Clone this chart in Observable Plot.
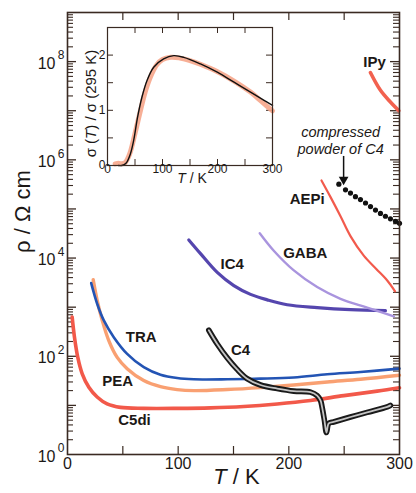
<!DOCTYPE html>
<html><head><meta charset="utf-8">
<script src="https://cdn.jsdelivr.net/npm/d3@7"></script>
<script src="https://cdn.jsdelivr.net/npm/@observablehq/plot@0.6"></script>
<style>
body{margin:0;background:#fff}
#c{position:relative;width:416px;height:493px}
#c svg{position:absolute}
</style>
</head><body><div id="c"></div>
<script>
// ---------- data (main panel: T in K, rho in ohm cm) ----------
const T_IPy = [273.7, 282.8, 291.8, 299.4];
const rho_IPy = [6.0e7, 2.6e7, 1.5e7, 1.0e7];

const T_comp = [245.2, 251.2, 255.7, 260.2, 264.7, 269.3, 273.8, 278.3, 282.8, 287.3, 291.8, 296.4, 300];
const rho_comp = [3.2e5, 2.45e5, 2.1e5, 1.78e5, 1.55e5, 1.32e5, 1.12e5, 9.5e4, 8.1e4, 7.1e4, 6.3e4, 5.6e4, 5.1e4];

const T_AEPi = [229.5, 237.7, 246.7, 255.7, 267.7, 279, 288.9, 296];
const rho_AEPi = [3.8e5, 1.74e5, 7.1e4, 2.8e4, 1.12e4, 6.0e3, 3.5e3, 2.1e3];

const T_GABA = [173.7, 186.4, 204.5, 225.6, 246.7, 270.8, 294.9];
const rho_GABA = [3.2e4, 1.41e4, 5.6e3, 2.57e3, 1.48e3, 980, 650];

const T_IC4 = [109.6, 120.2, 135.3, 150.3, 165.4, 180.5, 198.5, 225.6, 255.7, 287.3];
const rho_IC4 = [2.34e4, 1.23e4, 5.1e3, 2.75e3, 1.82e3, 1.41e3, 1.12e3, 980, 890, 850];

const T_TRA = [21.4, 26.8, 32.8, 41.8, 53.9, 68.9, 84, 99.1, 114.1, 144.3, 174.4, 204.5, 234.7, 264.8, 300];
const rho_TRA = [3090, 1175, 537, 245, 112, 60, 42, 36, 34, 34, 35, 37, 43, 48, 56];

const T_PEA = [23.2, 26.8, 31.4, 37.3, 44.9, 53.9, 68.9, 84, 99.1, 114.1, 144.3, 174.4, 204.5, 234.7, 264.8, 300];
const rho_PEA = [3630, 1380, 537, 209, 95, 56, 32, 24, 21, 20, 21, 23, 26, 30, 34, 41];

const T_C5di = [4.2, 6.3, 9.3, 13.3, 19.3, 26.8, 35.8, 47.9, 68.9, 99.1, 129.2, 159.3, 189.5, 219.6, 249.7, 279.8, 300];
const rho_C5di = [631, 245, 95, 44, 23.4, 14.8, 10.7, 9.1, 8.7, 8.7, 8.9, 9.5, 10.7, 12.6, 15.8, 19.5, 22.9];

const T_C4 = [127.7, 135.3, 144.3, 153.3, 162.3, 174.4, 189.5, 204.5, 219.6, 225.6, 228.6, 230.1, 232.2, 234, 236.1, 240.4, 255.7, 270.8, 288.9, 291.8];
const rho_C4 = [339, 178, 93, 54, 35, 26, 22, 19.5, 18.6, 15.8, 12.6, 9.1, 4.9, 2.8, 4.3, 4.6, 5.8, 7.2, 9.3, 10];

// curve labels
const labelText = ["IPy", "AEPi", "GABA", "IC4", "TRA", "C4", "PEA", "C5di"];
const labelT = [277.4, 216.6, 214.8, 148.8, 66.6, 156.3, 45.4, 60.5];
const labelRho = [9.7e7, 1.55e5, 1.26e4, 7.6e3, 245, 135, 31, 4.9];

const annoLines = ["compressed", "powder of C4"];
const annoT = [246.8, 246.8];
const annoRho = [3.55e6, 1.66e6];
const arrowT = 249.5, arrowFrom = 1.2e6, arrowTo = 3.6e5;

// ticks
const xTickLabels = [0, 100, 200, 300];
const xTicks = [50, 100, 150, 200, 250];
const yLabelVals = [1, 1e2, 1e4, 1e6, 1e8];
const yLabelExp = ["0", "2", "4", "6", "8"];
const yDecades = [10, 1e2, 1e3, 1e4, 1e5, 1e6, 1e7, 1e8];
const yAll = d3.scaleLog().domain([1, 1e9]).ticks();
const yMinor = yAll.filter(v => Math.abs(Math.log10(v) - Math.round(Math.log10(v))) > 1e-9);

// ---------- inset data: sigma(T)/sigma(295 K) ----------
const T_insetFit = [20, 26, 33.6, 41.6, 47.5, 54.7, 62.7, 71.9, 84, 102, 120.4, 138.7, 169, 199.6, 230, 260, 284.7, 300];
const s_insetFit = [0, 0, 0.04, 0.21, 0.45, 0.875, 1.24, 1.54, 1.78, 1.93, 1.99, 1.96, 1.84, 1.69, 1.51, 1.33, 1.18, 1.09];
const T_insetData = [14, 20, 26, 32, 40, 50, 60, 70, 80, 90, 100, 115, 130, 150, 170, 200, 230, 260, 280, 300];
const s_insetData = [0.03, 0.04, 0.03, 0.05, 0.2, 0.58, 1.0, 1.38, 1.65, 1.83, 1.92, 1.96, 1.95, 1.9, 1.83, 1.7, 1.53, 1.33, 1.16, 0.99];
const insetXLabels = [0, 100, 200, 300];
const insetXTicks = [50, 100, 150, 200, 250];
const insetYLabels = [0, 1, 2];
const insetYTicks = [0.5, 1, 1.5, 2];

// ---------- build ----------
const zip = (T, R, k = "rho") => T.map((t, i) => ({T: t, [k]: R[i]}));
const FR = "#3a2a22", TX = "#1c1816";
const FONT = "'Liberation Sans', Arial, Helvetica, sans-serif";
const W = 416, H = 493, ML = 67, MR = 17, MT = 12, MB = 39;
const PW = W - ML - MR, PH = H - MT - MB;

const line = (T, R, opts) => Plot.line(zip(T, R), {x: "T", y: "rho", curve: "catmull-rom", strokeLinecap: "round", strokeLinejoin: "round", ...opts});

const main = Plot.plot({
  width: W, height: H, marginLeft: ML, marginRight: MR, marginTop: MT, marginBottom: MB,
  x: {domain: [0, 300], axis: null},
  y: {type: "log", domain: [1, 1e9], axis: null},
  style: {fontFamily: FONT, background: "white", color: TX, overflow: "visible"},
  marks: [
    Plot.tickX(xTicks, {x: d => d, stroke: FR, strokeWidth: 1.2, insetTop: PH - 8}),
    Plot.tickX(xTicks, {x: d => d, stroke: FR, strokeWidth: 1.2, insetBottom: PH - 8}),
    Plot.tickY(yMinor, {y: d => d, stroke: FR, strokeWidth: 1.1, insetRight: PW - 6}),
    Plot.tickY(yMinor, {y: d => d, stroke: FR, strokeWidth: 1.1, insetLeft: PW - 6}),
    Plot.tickY(yDecades, {y: d => d, stroke: FR, strokeWidth: 1.3, insetRight: PW - 9}),
    Plot.tickY(yDecades, {y: d => d, stroke: FR, strokeWidth: 1.3, insetLeft: PW - 9}),

    line(T_C5di, rho_C5di, {stroke: "#f2594a", strokeWidth: 3.6}),
    line(T_PEA, rho_PEA, {stroke: "#f9a072", strokeWidth: 3.4}),
    line(T_TRA, rho_TRA, {stroke: "#2354b4", strokeWidth: 2.6}),
    line(T_IC4, rho_IC4, {stroke: "#5546ae", strokeWidth: 3.2}),
    line(T_GABA, rho_GABA, {stroke: "#a994de", strokeWidth: 2.4}),
    line(T_AEPi, rho_AEPi, {stroke: "#f25a4c", strokeWidth: 2.2}),
    line(T_IPy, rho_IPy, {stroke: "#f2614f", strokeWidth: 3.6}),
    line(T_C4, rho_C4, {stroke: "#1a1a1a", strokeWidth: 5.6}),
    line(T_C4, rho_C4, {stroke: "#c4c4c4", strokeWidth: 1.8}),
    Plot.dot(zip(T_comp, rho_comp), {x: "T", y: "rho", r: 2.6, fill: "#111"}),

    Plot.link([0], {x1: () => arrowT, x2: () => arrowT, y1: () => arrowFrom, y2: () => arrowTo, stroke: "#111", strokeWidth: 1.5}),
    Plot.dot([0], {x: () => arrowT, y: () => arrowTo, symbol: "triangle", rotate: 180, r: 3.6, fill: "#111", dy: -2}),

    Plot.frame({stroke: FR, strokeWidth: 1.6}),

    Plot.text(xTickLabels, {x: d => d, frameAnchor: "bottom", dy: 14, text: d => String(d), fontSize: 16, fill: TX}),
    Plot.text(yLabelVals, {y: d => d, frameAnchor: "left", textAnchor: "end", dx: -12, dy: 2, text: () => "10", fontSize: 16, fill: TX}),
    Plot.text(yLabelVals, {y: d => d, frameAnchor: "left", textAnchor: "end", dx: -3, dy: -6, text: (d, i) => yLabelExp[i], fontSize: 12, fill: TX}),
    Plot.text(["T / K"], {frameAnchor: "bottom", textAnchor: "middle", dx: 3, dy: 29, text: d => d, fontSize: 22, fill: TX}),
    Plot.text(["ρ / Ω cm"], {frameAnchor: "left", textAnchor: "middle", dx: -45, dy: -22, rotate: -90, text: d => d, fontSize: 22, fill: TX}),

    Plot.text(labelText, {x: (d, i) => labelT[i], y: (d, i) => labelRho[i], text: d => d, fontSize: 15, fontWeight: "bold", fill: TX}),
    Plot.text(annoLines, {x: (d, i) => annoT[i], y: (d, i) => annoRho[i], text: d => d, fontSize: 14.5, fontStyle: "italic", fill: TX})
  ]
});

const IW = 232, IH = 180, IML = 47, IMR = 20, IMT = 10, IMB = 32;
const IPW = IW - IML - IMR, IPH = IH - IMT - IMB;
const inset = Plot.plot({
  width: IW, height: IH, marginLeft: IML, marginRight: IMR, marginTop: IMT, marginBottom: IMB,
  x: {domain: [0, 300], axis: null},
  y: {domain: [0, 2.5], axis: null},
  style: {fontFamily: FONT, background: "transparent", color: TX, overflow: "visible"},
  marks: [
    Plot.tickX(insetXTicks, {x: d => d, stroke: FR, strokeWidth: 1, insetTop: IPH - 6}),
    Plot.tickX(insetXTicks, {x: d => d, stroke: FR, strokeWidth: 1, insetBottom: IPH - 6}),
    Plot.tickY(insetYTicks, {y: d => d, stroke: FR, strokeWidth: 1, insetRight: IPW - 6}),
    Plot.tickY(insetYTicks, {y: d => d, stroke: FR, strokeWidth: 1, insetLeft: IPW - 6}),
    Plot.line(zip(T_insetData, s_insetData, "s"), {x: "T", y: "s", curve: "catmull-rom", stroke: "#f6a68b", strokeWidth: 5, strokeLinecap: "round", strokeOpacity: 0.9}),
    Plot.line(zip(T_insetFit, s_insetFit, "s"), {x: "T", y: "s", curve: "catmull-rom", stroke: "#111", strokeWidth: 1.4}),
    Plot.frame({stroke: FR, strokeWidth: 1.2}),
    Plot.text(insetXLabels, {x: d => d, frameAnchor: "bottom", dy: 7, text: d => String(d), fontSize: 12, fill: TX}),
    Plot.text(insetYLabels, {y: d => d, frameAnchor: "left", textAnchor: "end", dx: -2, text: d => String(d), fontSize: 12, fill: TX}),
    Plot.text(["T / K"], {frameAnchor: "bottom", textAnchor: "middle", dx: 2, dy: 17, text: d => d, fontSize: 14, fill: TX}),
    Plot.text(["σ (T) / σ (295 K)"], {frameAnchor: "left", textAnchor: "middle", dx: -16, dy: 7, rotate: -90, text: d => d, fontSize: 15, fill: TX})
  ]
});

const c = document.getElementById("c");
main.style.left = "0px"; main.style.top = "0px";
inset.style.left = "60px"; inset.style.top = "17px";
c.appendChild(main);
c.appendChild(inset);

// italic T in axis titles
function styleText(svg, full, parts) {
  d3.select(svg).selectAll("text").filter(function () { return this.textContent === full; }).each(function () {
    const t = d3.select(this);
    t.text(null);
    parts.forEach(([s, it]) => { const sp = t.append("tspan").text(s); if (it) sp.attr("font-style", "italic"); });
  });
}
styleText(main, "T / K", [["T", true], [" / K", false]]);
styleText(inset, "T / K", [["T", true], [" / K", false]]);
styleText(inset, "σ (T) / σ (295 K)", [["σ (", false], ["T", true], [") / σ (295 K)", false]]);
</script></body></html>
